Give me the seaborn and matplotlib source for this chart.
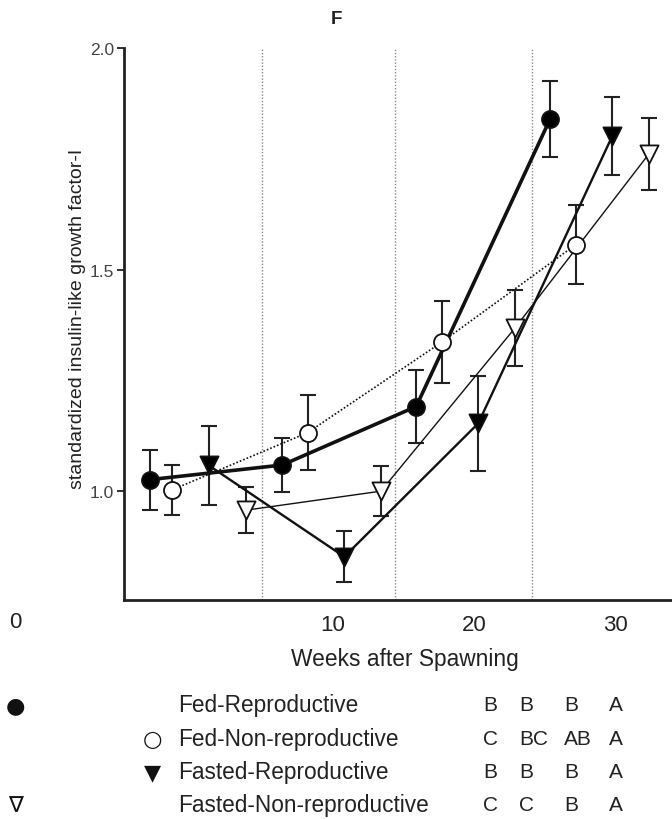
import numpy as np
import pandas as pd
import matplotlib
matplotlib.use("Agg")
import matplotlib.pyplot as plt
import matplotlib.transforms as mtransforms
import seaborn as sns

# weeks after spawning (each group offset slightly), mean IGF-I and SE
fed_rep_x = [-3.0, 6.4, 15.9, 25.4]
fed_rep_y = [1.026, 1.059, 1.191, 1.840]
fed_rep_se = [0.068, 0.060, 0.083, 0.086]

fed_non_x = [-1.4, 8.2, 17.7, 27.2]
fed_non_y = [1.003, 1.132, 1.336, 1.556]
fed_non_se = [0.056, 0.084, 0.093, 0.089]

fast_rep_x = [1.2, 10.8, 20.3, 29.8]
fast_rep_y = [1.058, 0.852, 1.153, 1.801]
fast_rep_se = [0.089, 0.058, 0.108, 0.088]

fast_non_x = [3.8, 13.4, 22.9, 32.4]
fast_non_y = [0.957, 1.000, 1.368, 1.761]
fast_non_se = [0.052, 0.056, 0.085, 0.081]

period_bounds = [5.0, 14.4, 24.1]

group_names = ["Fed-Reproductive", "Fed-Non-reproductive",
               "Fasted-Reproductive", "Fasted-Non-reproductive"]
letters_fed_rep = ["B", "B", "B", "A"]
letters_fed_non = ["C", "BC", "AB", "A"]
letters_fast_rep = ["B", "B", "B", "A"]
letters_fast_non = ["C", "C", "B", "A"]
legend_symbols = ["\u25CF", "\u25CB", "\u25BC", "\u2207"]

sns.set_theme(style="ticks")
plt.rcParams['font.family'] = ['Liberation Sans', 'DejaVu Sans']

fig = plt.figure(figsize=(6.72, 8.2), dpi=100)
ax = fig.add_axes([0.1845, 0.2674, 0.8155, 0.6728])

groups = [
    (fed_rep_x, fed_rep_y, fed_rep_se, dict(lw=2.6, ls='-'), 'o', 'black'),
    (fed_non_x, fed_non_y, fed_non_se, dict(lw=1.2, ls=(0, (1, 1.2))), 'o', 'white'),
    (fast_rep_x, fast_rep_y, fast_rep_se, dict(lw=1.7, ls='-'), 'v', 'black'),
    (fast_non_x, fast_non_y, fast_non_se, dict(lw=1.0, ls='-'), 'v', 'white'),
]

for xb in period_bounds:
    ax.axvline(xb, color='#8a8a8a', lw=1.0, ls=(0, (1, 1.3)), zorder=1)

for gx, gy, gse, lstyle, mk, face in groups:
    df = pd.DataFrame({'week': gx, 'igf': gy})
    ax.errorbar(gx, gy, yerr=gse, fmt='none', ecolor='#222222',
                elinewidth=1.5, capsize=6, capthick=1.5, zorder=2)
    sns.lineplot(data=df, x='week', y='igf', ax=ax, color='#111111',
                 sort=False, zorder=3, **lstyle)
    sns.scatterplot(data=df, x='week', y='igf', ax=ax, marker=mk,
                    s=150 if mk == 'o' else 170, color=face,
                    edgecolor='#111111', linewidth=1.3, zorder=4)

ax.set_xlim(-4.82, 34.04)
ax.set_ylim(0.755, 2.0)
ax.set_yticks([1.0, 1.5, 2.0])
ax.set_yticklabels(["1.0", "1.5", "2.0"], fontsize=12.5, color='#444444')
ax.set_xticks([10, 20, 30])
ax.set_xticklabels(["10", "20", "30"], fontsize=16, color='#222222')
ax.tick_params(axis='x', length=0, pad=10)
ax.tick_params(axis='y', length=5, width=1.3, color='#222222', pad=2)

# the "0" tick label sits far left of the axis in the original figure
trans = mtransforms.blended_transform_factory(ax.transData, ax.transAxes)
ax.text(-12.55, -0.04, "0", transform=trans, ha='center', va='center',
        fontsize=16, color='#222222', clip_on=False)

ax.set_xlabel("Weeks after Spawning", fontsize=16.4, color='#222222')
ax.xaxis.set_label_coords(0.513, -0.086)
ax.set_ylabel("standardized insulin-like growth factor-I", fontsize=14,
              color='#222222', labelpad=10)
ax.yaxis.set_label_coords(-0.07, 0.51)

for side in ['top', 'right']:
    ax.spines[side].set_visible(False)
for side in ['left', 'bottom']:
    ax.spines[side].set_linewidth(2.0)
    ax.spines[side].set_color('#222222')

fig.text(336 / 672, 1 - 19 / 820, "F", ha='center', va='center',
         fontsize=13.5, fontweight='bold', color='#222222')

# legend block with significance letters
row_y = [706, 740, 773, 806]
sym_x = [15, 152, 153, 15]
letters = [letters_fed_rep, letters_fed_non, letters_fast_rep, letters_fast_non]
col_x = [483, 519, 564, 609]
for i, name in enumerate(group_names):
    yy = 1 - row_y[i] / 820
    fig.text(sym_x[i] / 672, yy, legend_symbols[i], ha='center', va='center',
             fontsize=16, color='#111111',
             family=['DejaVu Sans'])
    fig.text(178 / 672, yy, name, ha='left', va='center', fontsize=16.3,
             color='#222222')
    for j, let in enumerate(letters[i]):
        fig.text(col_x[j] / 672, yy, let, ha='left', va='center',
                 fontsize=15, color='#222222')

fig.savefig("out.png", dpi=100)
